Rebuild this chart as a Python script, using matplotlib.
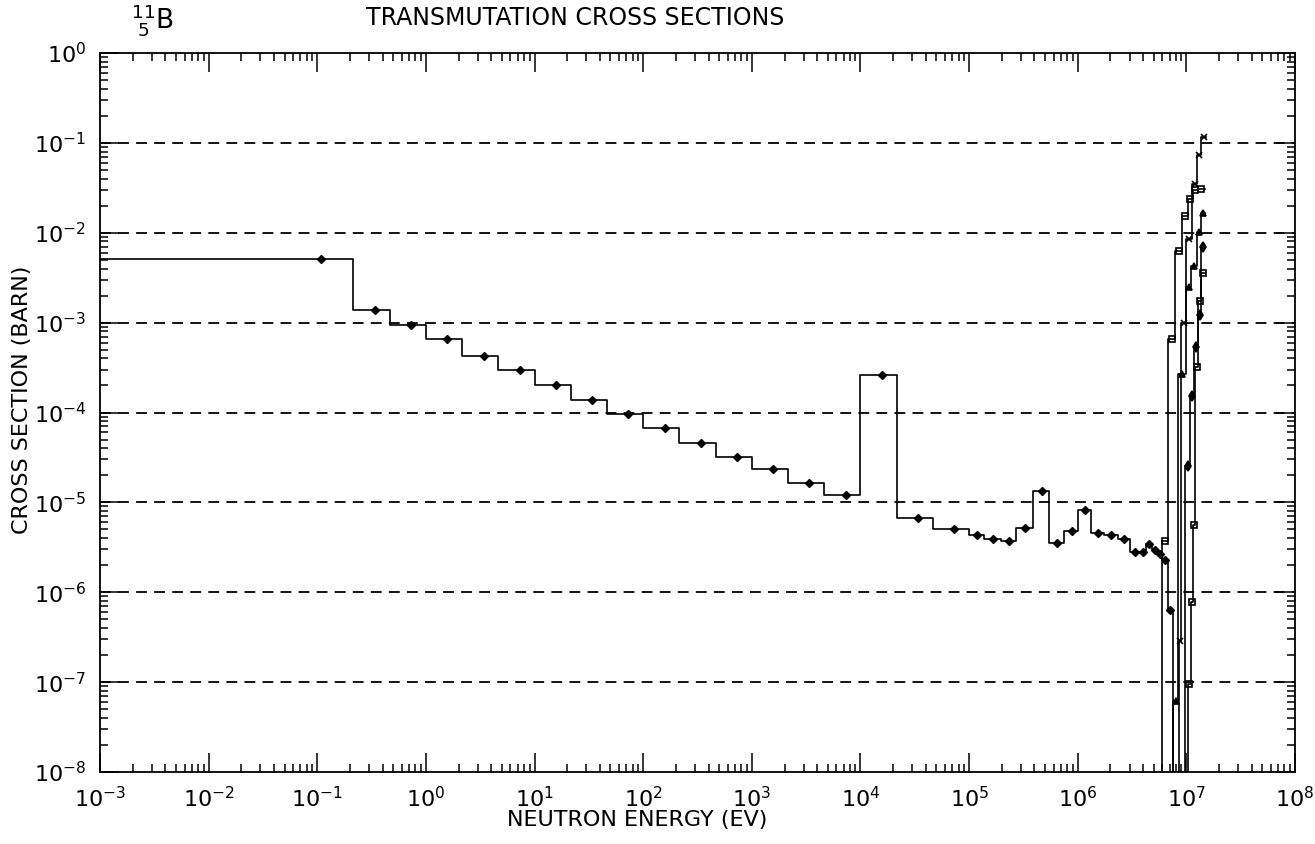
import numpy as np
import matplotlib.pyplot as plt
from matplotlib.ticker import LogLocator, NullFormatter, FixedLocator

# values (energy in eV, cross section in barn)
FLOOR = 1e-12  # zero cross section below threshold

main_edges = [1e-5, 0.215, 0.464, 1.0, 2.15, 4.64, 10, 21.5, 46.4, 100, 215, 464,
              1000, 2150, 4640, 1e4, 2.15e4, 4.64e4, 1e5, 1.38e5, 1.96e5, 2.72e5,
              3.87e5, 5.43e5, 7.52e5, 1.01e6, 1.32e6, 1.76e6, 2.33e6, 3.0e6, 3.69e6,
              4.29e6, 4.86e6, 5.52e6, 6.0e6, 6.82e6, 7.46e6]
main_vals = [5.1e-3, 1.37e-3, 9.5e-4, 6.5e-4, 4.3e-4, 2.95e-4, 2.03e-4, 1.39e-4,
             9.6e-5, 6.7e-5, 4.6e-5, 3.2e-5, 2.33e-5, 1.64e-5, 1.2e-5, 2.62e-4,
             6.7e-6, 5.1e-6, 4.3e-6, 3.9e-6, 3.74e-6, 5.2e-6, 1.33e-5, 3.5e-6,
             4.8e-6, 8.2e-6, 4.6e-6, 4.3e-6, 3.9e-6, 2.8e-6, 2.8e-6, 3.4e-6,
             2.95e-6, 2.66e-6, 2.3e-6, 6.3e-7]

b_edges = [5.96e6, 6.82e6, 7.93e6, 9.18e6, 1.03e7, 1.15e7, 1.27e7, 1.48e7]
b_vals = [3.7e-6, 6.5e-4, 6.2e-3, 1.53e-2, 2.35e-2, 3.0e-2, 3.03e-2]

c_edges = [8.49e6, 8.99e6, 9.95e6, 1.135e7, 1.26e7, 1.37e7, 1.51e7]
c_vals = [2.9e-7, 1.0e-3, 8.6e-3, 3.5e-2, 7.3e-2, 0.116]

d_edges = [7.53e6, 8.43e6, 9.95e6, 1.11e7, 1.24e7, 1.37e7, 1.49e7]
d_vals = [6.2e-8, 2.7e-4, 2.5e-3, 4.3e-3, 1.02e-2, 1.65e-2]

e_edges = [1.03e7, 1.10e7, 1.16e7, 1.21e7, 1.29e7, 1.37e7, 1.49e7]
e_vals = [9.5e-8, 7.7e-7, 5.6e-6, 3.2e-4, 1.76e-3, 3.6e-3]

f_edges = [9.77e6, 1.08e7, 1.18e7, 1.29e7, 1.37e7, 1.49e7]
f_vals = [2.56e-5, 1.54e-4, 5.3e-4, 1.23e-3, 6.9e-3]

x_ticks = [1e-3, 1e-2, 1e-1, 1e0, 1e1, 1e2, 1e3, 1e4, 1e5, 1e6, 1e7, 1e8]
y_ticks = [1e-8, 1e-7, 1e-6, 1e-5, 1e-4, 1e-3, 1e-2, 1e-1, 1e0]
grid_levels = [1e-7, 1e-6, 1e-5, 1e-4, 1e-3, 1e-2, 1e-1]


def step_xy(edges, vals, from_floor=False, to_floor=False):
    edges = np.asarray(edges, float)
    vals = np.asarray(vals, float)
    x = np.repeat(edges, 2)[1:-1]
    y = np.repeat(vals, 2)
    if from_floor:
        x = np.r_[edges[0], x]
        y = np.r_[FLOOR, y]
    if to_floor:
        x = np.r_[x, edges[-1]]
        y = np.r_[y, FLOOR]
    return x, y


def mids(edges):
    e = np.asarray(edges, float)
    return (e[:-1] + e[1:]) / 2


plt.rcParams['font.family'] = ['DejaVu Sans']
plt.rcParams['mathtext.fontset'] = 'dejavusans'

fig = plt.figure(figsize=(13.15, 8.44), dpi=100)
ax = fig.add_axes([100 / 1315, 1 - 772 / 844, 1195 / 1315, 719 / 844])
ax.set_xscale('log')
ax.set_yscale('log')
ax.set_xlim(1e-3, 1e8)
ax.set_ylim(1e-8, 1e0)

for lev in grid_levels:
    ax.axhline(lev, color='black', lw=1.3, ls=(0, (6, 4)), zorder=1)

lw = 1.2
x, y = step_xy(main_edges, main_vals, to_floor=True)
ax.plot(x, y, color='black', lw=lw, zorder=3)
ax.plot(mids(main_edges), main_vals, 'D', color='black', ms=4, zorder=4)

curves = [
    (b_edges, b_vals, 's', 'none'),
    (c_edges, c_vals, 'x', 'black'),
    (d_edges, d_vals, '^', 'black'),
    (e_edges, e_vals, 's', 'none'),
    (f_edges, f_vals, 'd', 'black'),
]
for edges, vals, mk, mfc in curves:
    x, y = step_xy(edges, vals, from_floor=True)
    ax.plot(x, y, color='black', lw=lw, zorder=3)
    ax.plot(mids(edges), vals, mk, color='black', mfc=mfc, mec='black',
            ms=5, mew=1.2, zorder=4)

ax.xaxis.set_major_locator(FixedLocator(x_ticks))
ax.yaxis.set_major_locator(FixedLocator(y_ticks))
ax.xaxis.set_minor_locator(LogLocator(base=10, subs=np.arange(2, 10), numticks=50))
ax.yaxis.set_minor_locator(LogLocator(base=10, subs=np.arange(2, 10), numticks=50))
ax.xaxis.set_minor_formatter(NullFormatter())
ax.yaxis.set_minor_formatter(NullFormatter())
ax.set_xticklabels([r'$10^{%d}$' % int(np.log10(v)) for v in x_ticks])
ax.set_yticklabels([r'$10^{%d}$' % int(np.log10(v)) for v in y_ticks])

ax.tick_params(which='both', direction='in', top=True, right=True, width=1.1)
ax.tick_params(which='major', length=14, labelsize=16, pad=10)
ax.tick_params(which='minor', length=6)
for s in ax.spines.values():
    s.set_linewidth(1.3)

fig.text(152 / 1315, 1 - 20 / 844, r'$^{11}_{\ 5}$B', fontsize=19, ha='center', va='center')
fig.text(575 / 1315, 1 - 18 / 844, 'TRANSMUTATION CROSS SECTIONS', fontsize=17,
         ha='center', va='center')
fig.text(637 / 1315, 1 - 820 / 844, 'NEUTRON ENERGY (EV)', fontsize=16,
         ha='center', va='center')
fig.text(22 / 1315, 1 - 400 / 844, 'CROSS SECTION (BARN)', fontsize=16,
         ha='center', va='center', rotation=90)

fig.savefig('out.png', dpi=100)
